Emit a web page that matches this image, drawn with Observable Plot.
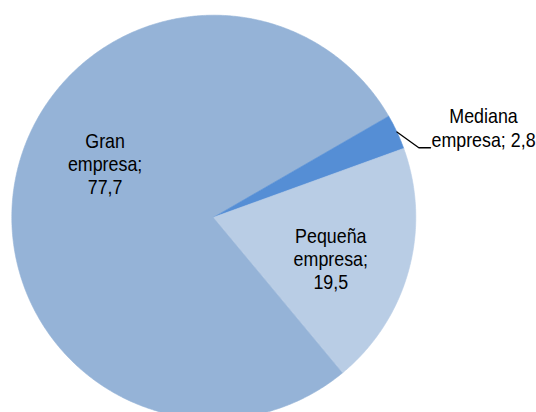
<!DOCTYPE html>
<html><head><meta charset="utf-8">
<script src="https://cdn.jsdelivr.net/npm/d3@7"></script>
<script src="https://cdn.jsdelivr.net/npm/@observablehq/plot@0.6"></script>
<style>body{margin:0;background:#fff}</style>
</head><body><div id="chart"></div>
<script>
const categories = ["Gran empresa", "Mediana empresa", "Pequeña empresa"];
const values = [77.7, 2.8, 19.5];
const labels = ["Gran\nempresa;\n77,7", "Mediana\nempresa; 2,8", "Pequeña\nempresa;\n19,5"];
const colors = ["#95b3d7", "#558ed5", "#b9cde5"];

const W = 536, H = 412, R = 202, CX = 213.3, CY = 216.7;
const start = 140.28 * Math.PI / 180;
const arcs = d3.pie().sort(null).startAngle(start).endAngle(start + 2 * Math.PI)(values);
const polys = [];
arcs.forEach((a, i) => {
  polys.push({cat: categories[i], x: 0, y: 0});
  const n = Math.max(2, Math.ceil((a.endAngle - a.startAngle) / (Math.PI / 360)));
  for (let k = 0; k <= n; k++) {
    const t = a.startAngle + (a.endAngle - a.startAngle) * k / n;
    polys.push({cat: categories[i], x: Math.sin(t), y: Math.cos(t)});
  }
});
const mid = arcs.map(a => (a.startAngle + a.endAngle) / 2);
const polar = (ang, r) => ({x: r * Math.sin(ang), y: r * Math.cos(ang)});
const gran = {...polar(mid[0], 0.6), label: labels[0]};
const peq = {...polar(mid[2], 0.6), label: labels[2]};
const med0 = polar(mid[1], 1.0);
const p1 = {x: med0.x + 21.9 / R, y: med0.y - 15.8 / R};
const p2 = {x: p1.x + 11.7 / R, y: p1.y};
const med = {...p2, label: labels[1]};

const font = "'Liberation Sans', Arial, sans-serif";
const chart = Plot.plot({
  width: W, height: H, margin: 0,
  x: {domain: [-CX / R, (W - CX) / R], axis: null},
  y: {domain: [-(H - CY) / R, CY / R], axis: null},
  color: {domain: categories, range: colors},
  style: {fontFamily: font, fontSize: "21px", color: "#000", background: "#fff"},
  marks: [
    Plot.line(polys, {x: "x", y: "y", z: "cat", fill: "cat", stroke: "cat", strokeWidth: 0.6, curve: "linear-closed"}),
    Plot.line([med0, p1, p2], {x: "x", y: "y", stroke: "#000", strokeWidth: 1.3}),
    Plot.text([gran], {x: "x", y: "y", text: "label", dx: 10.6, dy: -32, lineHeight: 1.086, fontSize: 21, fill: "#000"}),
    Plot.text([peq], {x: "x", y: "y", text: "label", dx: 0, dy: 9.9, lineHeight: 1.086, fontSize: 21, fill: "#000"}),
    Plot.text([med], {x: "x", y: "y", text: "label", dx: 53, dy: -20.3, lineHeight: 1.14, fontSize: 21, fill: "#000"})
  ]
});
// condense the label glyphs horizontally, as in the reference
d3.select(chart).selectAll("text").attr("transform", function () {
  return (this.getAttribute("transform") || "") + " scale(0.85,1)";
});
document.getElementById("chart").appendChild(chart);
</script>
</body></html>
